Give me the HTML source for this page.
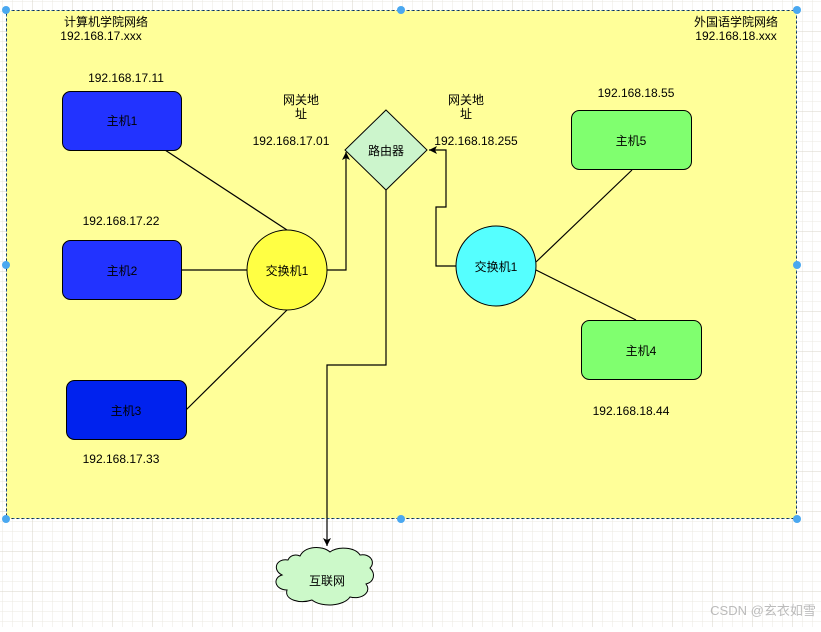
<!DOCTYPE html>
<html><head><meta charset="utf-8"><style>
html,body{margin:0;padding:0;background:#fff;}
svg text{font-family:"Liberation Sans","Noto Sans CJK SC",sans-serif;font-size:12px;fill:#000;}
</style></head><body>
<svg width="821" height="627" viewBox="0 0 821 627" xmlns="http://www.w3.org/2000/svg">
<defs>
<pattern id="g" width="10" height="10" patternUnits="userSpaceOnUse"><path d="M10 0V10H0" fill="none" stroke="#ebe8e2" stroke-width="1"/></pattern>
<pattern id="G" width="40" height="40" patternUnits="userSpaceOnUse" x="-7" y="-8"><rect width="40" height="40" fill="url(#g)"/><path d="M40 0V40H0" fill="none" stroke="#d8d4ca" stroke-width="1"/></pattern>
<marker id="a" markerWidth="10" markerHeight="10" refX="8" refY="5" orient="auto" markerUnits="userSpaceOnUse"><path d="M0 1L8 5L0 9L2 5Z" fill="#000"/></marker>
</defs>
<rect width="821" height="627" fill="url(#G)"/>
<rect x="6.5" y="10.5" width="790" height="508" fill="#ffff99" stroke="#000" stroke-dasharray="3 2"/>
<rect x="6.5" y="10.5" width="790" height="508" fill="none" stroke="#3399ff" stroke-dasharray="2 3" opacity="0.6"/>
<text x="106" y="26" text-anchor="middle">计算机学院网络</text>
<text x="101" y="40" text-anchor="middle">192.168.17.xxx</text>
<text x="736" y="26" text-anchor="middle">外国语学院网络</text>
<text x="736" y="40" text-anchor="middle">192.168.18.xxx</text>
<g stroke="#000" fill="none" stroke-width="1.2">
<path d="M165 150L287 230"/>
<path d="M181 270H247"/>
<path d="M186 410L287 310"/>
<path d="M327 270H346V152" marker-end="url(#a)"/>
<path d="M386 190V365H327V546" marker-end="url(#a)"/>
<path d="M456 266H436V207H446V150H429" marker-end="url(#a)"/>
<path d="M536 262L632 170"/>
<path d="M536 270L636 320"/>
</g>
<rect x="62.5" y="91.5" width="119" height="59" rx="8" fill="#2233ff" stroke="#000"/>
<rect x="62.5" y="240.5" width="119" height="59" rx="8" fill="#2233ff" stroke="#000"/>
<rect x="66.5" y="380.5" width="120" height="59" rx="8" fill="#0022ee" stroke="#000"/>
<text x="122" y="125" text-anchor="middle">主机1</text>
<text x="122" y="275" text-anchor="middle">主机2</text>
<text x="126" y="415" text-anchor="middle">主机3</text>
<text x="126" y="82" text-anchor="middle">192.168.17.11</text>
<text x="121" y="225" text-anchor="middle">192.168.17.22</text>
<text x="121" y="463" text-anchor="middle">192.168.17.33</text>
<circle cx="287" cy="270" r="40" fill="#ffff44" stroke="#000"/>
<text x="287" y="275" text-anchor="middle">交换机1</text>
<path d="M386 110L427 150L386 190L345 150Z" fill="#ccf5cc" stroke="#000"/>
<text x="386" y="155" text-anchor="middle">路由器</text>
<text x="301" y="104" text-anchor="middle">网关地</text>
<text x="301" y="118" text-anchor="middle">址</text>
<text x="291" y="145" text-anchor="middle">192.168.17.01</text>
<text x="466" y="104" text-anchor="middle">网关地</text>
<text x="466" y="118" text-anchor="middle">址</text>
<text x="476" y="145" text-anchor="middle">192.168.18.255</text>
<circle cx="496" cy="266" r="40" fill="#55ffff" stroke="#000"/>
<text x="496" y="271" text-anchor="middle">交换机1</text>
<rect x="571.5" y="110.5" width="120" height="59" rx="8" fill="#80ff6f" stroke="#000"/>
<rect x="581.5" y="320.5" width="120" height="59" rx="8" fill="#80ff6f" stroke="#000"/>
<text x="631" y="145" text-anchor="middle">主机5</text>
<text x="641" y="355" text-anchor="middle">主机4</text>
<text x="636" y="97" text-anchor="middle">192.168.18.55</text>
<text x="631" y="415" text-anchor="middle">192.168.18.44</text>
<path d="M300 556C305 546 322 545 330 552C338 546 355 547 360 555C370 553 376 562 370 568C376 574 374 582 366 584C372 592 362 600 350 597C344 606 322 608 312 600C300 604 284 600 287 590C275 590 272 578 282 575C272 570 276 558 288 560C290 555 296 554 300 556Z" fill="#ccf9c9" stroke="#000"/>
<text x="327" y="585" text-anchor="middle">互联网</text>
<g fill="#4aa8f0">
<circle cx="6" cy="10" r="4"/><circle cx="401" cy="10" r="4"/><circle cx="797" cy="10" r="4"/>
<circle cx="6" cy="265" r="4"/><circle cx="797" cy="265" r="4"/>
<circle cx="6" cy="519" r="4"/><circle cx="401" cy="519" r="4"/><circle cx="797" cy="519" r="4"/>
</g>
<text x="763" y="615" text-anchor="middle" style="font-size:13px;fill:#bbb">CSDN @玄衣如雪</text>
</svg>
</body></html>
